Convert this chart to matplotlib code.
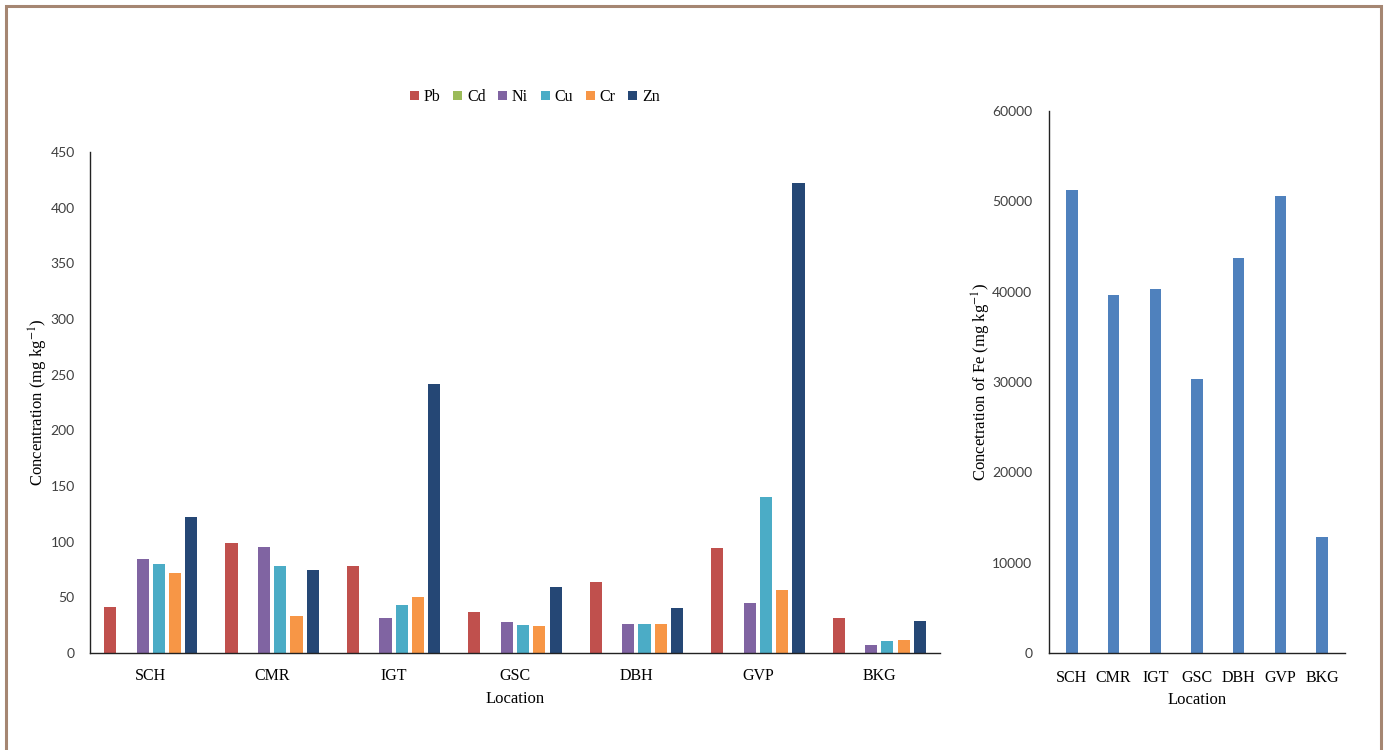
import matplotlib
matplotlib.use("Agg")
import matplotlib.pyplot as plt
import numpy as np
from matplotlib.patches import Rectangle

locations = ["SCH", "CMR", "IGT", "GSC", "DBH", "GVP", "BKG"]
metals = ["Pb", "Cd", "Ni", "Cu", "Cr", "Zn"]
Pb = [41, 99, 78, 37, 64, 94, 31]
Cd = [0, 0, 0, 0, 0, 0, 0]
Ni = [84, 95, 31, 28, 26, 45, 7]
Cu = [80, 78, 43, 25, 26, 140, 11]
Cr = [72, 33, 50, 24, 26, 57, 12]
Zn = [122, 75, 242, 59, 40, 422, 29]
Fe = [51300, 39600, 40300, 30300, 43750, 50600, 12800]
left_yticks = [0, 50, 100, 150, 200, 250, 300, 350, 400, 450]
right_yticks = [0, 10000, 20000, 30000, 40000, 50000, 60000]

colors = ["#C0504D", "#9BBB59", "#8064A2", "#4BACC6", "#F79646", "#254775"]
fe_color = "#4F81BD"

plt.rcParams["mathtext.fontset"] = "stix"
serif = "Liberation Serif"
sans = "Lato"

fig = plt.figure(figsize=(13.85, 7.5), dpi=100)
fig.patch.set_facecolor("white")

# border
fig.add_artist(Rectangle((6 / 1385, -0.05), (1381 - 6) / 1385, 1 - 5.5 / 750 + 0.05,
                         transform=fig.transFigure, fill=False,
                         edgecolor="#A58672", linewidth=2.2))

# Left chart
ax = fig.add_axes([90 / 1385, 97 / 750, 850 / 1385, 501 / 750])
series = [Pb, Cd, Ni, Cu, Cr, Zn]
x = np.arange(len(locations))
step = 0.134
width = 0.1
for i, (name, vals, c) in enumerate(zip(metals, series, colors)):
    ax.bar(x + (i - 2.5) * step, vals, width=width, color=c, label=name)
ax.set_xlim(-0.5, 6.5)
ax.set_ylim(0, 450)
ax.set_yticks(left_yticks)
ax.set_xticks(x)
ax.set_xticklabels(locations, fontfamily=serif, fontsize=11.5)
for lbl in ax.get_yticklabels():
    lbl.set_fontfamily(sans)
    lbl.set_fontsize(10)
    lbl.set_color("#404040")
ax.tick_params(axis="both", length=0)
ax.tick_params(axis="x", pad=11)
ax.tick_params(axis="y", pad=11)
for s in ["top", "right"]:
    ax.spines[s].set_visible(False)
for s in ["left", "bottom"]:
    ax.spines[s].set_color("#222222")
    ax.spines[s].set_linewidth(1.0)
ax.set_ylabel(r"Concentration (mg kg$^{-1}$)", fontfamily=serif, fontsize=12)
ax.yaxis.set_label_coords(-0.047, 0.5)
ax.set_xlabel("Location", fontfamily=serif, fontsize=12)
ax.xaxis.set_label_coords(0.5, -0.076)

handles, labels = ax.get_legend_handles_labels()
fig.legend(handles, labels, loc="center", bbox_to_anchor=(535 / 1385, 1 - 97 / 750),
           ncol=6, frameon=False, prop={"family": serif, "size": 11.5},
           handlelength=0.55, handleheight=0.55, handletextpad=0.3, columnspacing=0.8)

# Right chart
ax2 = fig.add_axes([1049 / 1385, 97 / 750, 296 / 1385, 542 / 750])
ax2.bar(x, Fe, width=0.27, color=fe_color)
ax2.set_xlim(-0.55, 6.55)
ax2.set_ylim(0, 60000)
ax2.set_yticks(right_yticks)
ax2.set_xticks(x)
ax2.set_xticklabels(locations, fontfamily=serif, fontsize=11.5)
for lbl in ax2.get_yticklabels():
    lbl.set_fontfamily(sans)
    lbl.set_fontsize(10)
    lbl.set_color("#404040")
ax2.tick_params(axis="both", length=0)
ax2.tick_params(axis="x", pad=12)
ax2.tick_params(axis="y", pad=12)
for s in ["top", "right"]:
    ax2.spines[s].set_visible(False)
for s in ["left", "bottom"]:
    ax2.spines[s].set_color("#222222")
    ax2.spines[s].set_linewidth(1.0)
ax2.set_ylabel(r"Concetration of Fe (mg kg$^{-1}$)", fontfamily=serif, fontsize=12)
ax2.yaxis.set_label_coords(-0.19, 0.5)
ax2.set_xlabel("Location", fontfamily=serif, fontsize=12)
ax2.xaxis.set_label_coords(0.5, -0.072)

fig.savefig("out.png", dpi=100, facecolor="white")
